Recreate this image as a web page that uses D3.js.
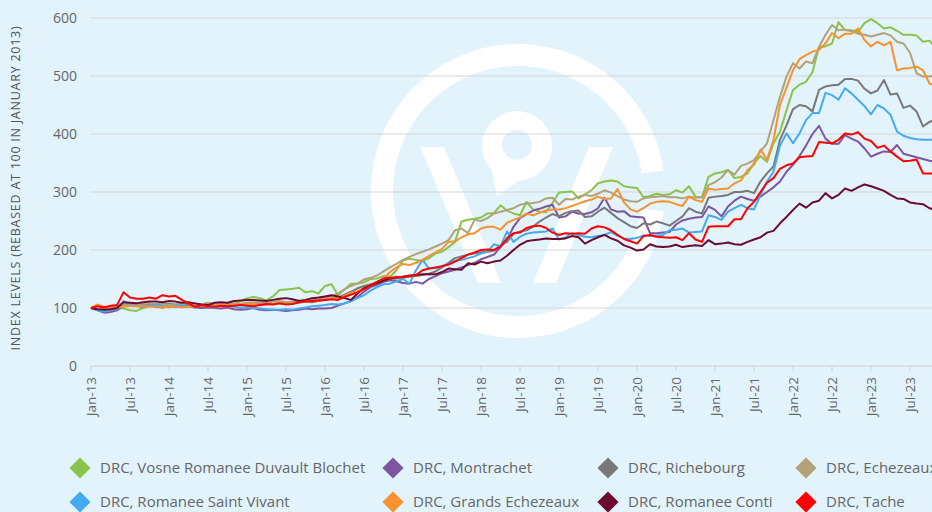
<!DOCTYPE html>
<html>
<head>
<meta charset="utf-8">
<script src="https://cdn.jsdelivr.net/npm/d3@7"></script>
<style>
    html, body { margin: 0; padding: 0; background: #e2f3fc; }
    svg { display: block; font-family: "Open Sans", sans-serif; }
</style>
</head>
<body>
<svg id="chart" width="932" height="512"></svg>
<script>
    "use strict";

    //Tick labels (one every 6 months, starting Jan-13)
    var tickLabels = ["Jan-13", "Jul-13", "Jan-14", "Jul-14", "Jan-15", "Jul-15", "Jan-16", "Jul-16",
        "Jan-17", "Jul-17", "Jan-18", "Jul-18", "Jan-19", "Jul-19", "Jan-20", "Jul-20",
        "Jan-21", "Jul-21", "Jan-22", "Jul-22", "Jan-23", "Jul-23"];
    var yTicks = [0, 100, 200, 300, 400, 500, 600];

    var names = ["DRC, Vosne Romanee Duvault Blochet", "DRC, Montrachet", "DRC, Richebourg", "DRC, Echezeaux",
        "DRC, Romanee Saint Vivant", "DRC, Grands Echezeaux", "DRC, Romanee Conti", "DRC, Tache"];

    //Monthly index levels, Jan-13 onwards
    var vosne = [100,97,100,101,100,99,96,95,100,103,104,102,
        104,105,103,106,104,103,104,102,105,104,107,112,
        117,119,117,113,120,131,132,133,135,127,129,125,
        138,141,122,132,142,142,144,150,151,155,154,165,
        182,185,183,181,186,194,197,205,214,249,252,254,
        256,263,264,277,268,263,260,283,270,266,265,281,
        299,300,301,289,296,303,315,318,320,318,310,308,
        307,291,293,297,295,296,303,299,310,292,291,326,
        332,334,338,324,326,332,350,362,352,384,404,441,
        476,485,490,507,550,551,556,593,579,579,576,591,
        598,591,582,584,578,571,571,570,559,561,547];

    var montrachet = [100,96,92,93,96,104,107,105,103,104,102,101,
        103,102,104,103,101,100,101,100,99,101,98,97,
        98,100,97,96,97,96,95,96,97,99,98,99,
        99,100,104,108,112,119,128,136,140,145,148,146,
        143,142,145,142,150,155,160,163,166,170,174,178,
        184,188,192,205,217,240,255,262,268,271,275,278,
        256,258,266,263,262,265,272,290,270,266,267,258,
        257,256,229,229,230,231,244,251,254,256,257,275,
        269,258,275,285,292,288,285,292,300,308,318,335,
        347,362,380,400,414,392,383,383,398,392,387,375,
        361,366,370,369,381,366,363,360,357,354,352];

    var richebourg = [100,97,96,98,100,104,108,106,105,107,106,108,
        107,106,108,107,106,105,104,106,105,107,106,107,
        108,107,109,108,107,109,110,108,109,111,110,112,
        114,116,118,123,128,134,138,141,144,147,150,151,
        152,154,155,157,159,163,170,178,186,189,192,194,
        196,197,199,208,214,228,232,234,240,249,256,262,
        258,264,267,268,257,258,266,273,264,255,248,241,
        238,246,244,249,246,242,250,258,272,266,263,290,
        292,293,295,300,300,302,298,318,332,344,390,415,
        443,450,448,439,476,482,484,485,495,495,492,478,
        470,475,493,468,470,445,449,439,413,421,424];

    var echezeaux = [100,104,102,101,103,105,107,106,107,108,106,107,
        105,106,108,109,107,106,109,107,106,107,108,107,
        109,110,109,108,111,112,110,111,113,112,115,116,
        118,120,125,132,138,142,149,152,156,163,170,176,
        183,188,193,197,201,206,211,217,234,237,229,252,
        250,255,263,266,269,272,278,280,281,283,289,290,
        278,288,287,292,295,293,297,303,299,293,287,284,
        283,289,291,292,293,291,291,289,292,290,291,312,
        317,325,338,330,345,349,355,370,384,424,464,499,
        522,513,525,522,550,571,588,579,580,577,573,571,
        568,571,574,570,559,556,540,505,499,499,501];

    var saintVivant = [100,96,94,97,98,112,106,104,101,104,106,103,
        101,105,104,102,103,104,103,101,104,103,102,100,
        101,100,99,98,97,97,98,97,99,101,103,104,
        105,107,106,108,112,117,122,130,136,141,142,146,
        150,142,165,183,168,169,172,177,181,183,186,189,
        194,197,210,206,232,214,223,228,230,231,232,237,
        218,222,229,226,223,222,224,226,231,225,220,219,
        221,225,224,225,226,234,235,237,230,231,232,260,
        257,252,266,272,278,272,270,295,318,335,380,401,
        384,401,424,436,436,471,467,459,479,470,459,448,
        434,450,444,433,404,397,393,391,390,390,390];

    var grandsEchezeaux = [100,106,102,100,101,102,104,103,103,102,103,101,
        102,103,101,102,103,104,103,104,105,104,105,106,
        106,107,105,106,107,108,107,108,110,111,112,113,
        115,116,117,121,126,129,134,140,145,150,162,170,
        176,174,178,183,190,196,202,214,215,222,227,229,
        237,240,240,235,247,252,256,263,260,264,268,270,
        270,272,276,280,284,287,292,288,289,305,282,270,
        266,272,280,283,284,283,279,276,292,286,283,306,
        304,305,306,315,320,338,347,373,356,390,450,480,
        510,529,536,542,545,556,574,565,573,573,582,562,
        551,559,553,559,510,513,514,516,510,487,484];

    var romaneeConti = [100,98,97,98,100,110,109,108,110,111,111,110,
        112,111,109,110,108,106,105,109,110,109,112,113,
        114,114,113,112,114,116,117,115,112,114,117,118,
        120,122,120,117,114,125,134,139,143,147,151,153,
        154,156,157,158,158,158,162,168,167,166,177,175,
        180,177,180,182,190,200,209,215,217,218,220,219,
        219,220,224,222,211,217,222,226,220,216,208,204,
        199,201,210,206,205,206,209,205,207,208,207,217,
        210,211,213,210,209,214,218,222,230,233,246,257,
        269,280,273,282,285,298,289,295,306,302,308,313,
        310,306,302,295,289,288,282,280,279,272,269];

    var tache = [100,103,101,104,105,127,118,116,116,118,116,122,
        120,121,114,108,102,105,103,102,104,103,104,105,
        104,103,105,107,106,108,106,107,110,111,112,113,
        114,115,114,119,123,127,132,139,145,151,152,153,
        154,155,157,165,168,170,172,175,180,186,192,196,
        200,201,200,206,220,229,230,238,241,242,238,230,
        226,229,228,229,228,237,241,239,234,226,219,215,
        211,224,226,223,222,221,222,217,229,218,214,240,
        241,241,241,253,253,272,283,300,316,324,340,346,
        349,360,361,362,386,385,384,390,401,399,403,392,
        388,376,380,370,361,353,354,356,332,332,332];

    var colours = ["#8bc34a", "#7e55a0", "#787878", "#b1a278",
        "#45aaf0", "#f7922f", "#6b0b2f", "#ff0000"];

    var series = [vosne, montrachet, richebourg, echezeaux,
        saintVivant, grandsEchezeaux, romaneeConti, tache];

    //Layout
    var bg = "#e2f3fc";
    var plotLeft = 91, plotTop = 18, plotBottom = 366;
    var monthWidth = 6.5;
    var svg = d3.select("#chart");

    var x = d3.scaleLinear().domain([0, 130]).range([plotLeft, plotLeft + 130 * monthWidth]);
    var y = d3.scaleLinear().domain([0, 600]).range([plotBottom, plotTop]);

    svg.append("rect").attr("width", 932).attr("height", 512).attr("fill", bg);

    //Watermark logo
    var wm = svg.append("g").attr("fill", "#ffffff");
    var cx = 518, cy = 191;
    wm.append("path")
        .attr("transform", "translate(" + cx + "," + cy + ")")
        .attr("d", d3.arc()({
            innerRadius: 125, outerRadius: 147,
            startAngle: Math.PI / 2 + 0.14, endAngle: Math.PI * 2.5 - 0.14
        }));
    wm.append("polygon").attr("points", "420,147 444,147 501,283 478,283");
    wm.append("polygon").attr("points", "589,147 613,147 556,283 533,283");
    wm.append("circle").attr("cx", 517).attr("cy", 146).attr("r", 35);
    wm.append("polygon").attr("points", "497,196 550,159 484,133");
    wm.append("circle").attr("cx", 517).attr("cy", 145).attr("r", 15).attr("fill", bg);

    //Gridlines
    svg.append("g").selectAll("line")
        .data(yTicks.filter(function (d) { return d > 0; }))
        .enter().append("line")
        .attr("x1", plotLeft - 1).attr("x2", 932)
        .attr("y1", function (d) { return y(d); })
        .attr("y2", function (d) { return y(d); })
        .attr("stroke", "#d5d5d5").attr("stroke-width", 1);

    //Y axis labels
    svg.append("g").selectAll("text")
        .data(yTicks)
        .enter().append("text")
        .attr("x", 77)
        .attr("y", function (d) { return y(d); })
        .attr("dy", "0.35em")
        .attr("text-anchor", "end")
        .attr("font-size", 14)
        .attr("fill", "#666")
        .text(function (d) { return d; });

    //Y axis title
    svg.append("text")
        .attr("transform", "translate(20," + ((plotTop + plotBottom) / 2 - 4) + ") rotate(-90)")
        .attr("text-anchor", "middle")
        .attr("font-size", 12.5)
        .attr("letter-spacing", 0.75)
        .attr("fill", "#555")
        .text("INDEX LEVELS (REBASED AT 100 IN JANUARY 2013)");

    //X axis
    svg.append("line")
        .attr("x1", plotLeft).attr("x2", 932)
        .attr("y1", plotBottom).attr("y2", plotBottom)
        .attr("stroke", "#cfcfcf");

    var xt = svg.append("g").selectAll("g")
        .data(tickLabels)
        .enter().append("g")
        .attr("transform", function (d, i) { return "translate(" + x(i * 6) + "," + plotBottom + ")"; });
    xt.append("line").attr("y2", 5).attr("stroke", "#cfcfcf");
    xt.append("text")
        .attr("transform", "translate(0,11) rotate(-90)")
        .attr("dy", "0.35em")
        .attr("text-anchor", "end")
        .attr("font-size", 13.5)
        .attr("fill", "#666")
        .text(function (d) { return d; });

    //Lines
    var line = d3.line()
        .x(function (d, i) { return x(i); })
        .y(function (d) { return y(d); });

    svg.append("g").selectAll("path")
        .data(series)
        .enter().append("path")
        .attr("d", line)
        .attr("fill", "none")
        .attr("stroke", function (d, i) { return colours[i]; })
        .attr("stroke-width", 2)
        .attr("stroke-linejoin", "round");

    //Legend
    var colX = [80, 393, 608, 806];
    var rowY = [468, 502];
    var lg = svg.append("g").selectAll("g")
        .data(names)
        .enter().append("g")
        .attr("transform", function (d, i) {
            return "translate(" + colX[i % 4] + "," + rowY[Math.floor(i / 4)] + ")";
        });
    lg.append("rect")
        .attr("x", -7.5).attr("y", -7.5).attr("width", 15).attr("height", 15)
        .attr("transform", "rotate(45)")
        .attr("fill", function (d, i) { return colours[i]; });
    lg.append("text")
        .attr("x", 20)
        .attr("dy", "0.35em")
        .attr("font-size", 15)
        .attr("fill", "#666")
        .text(function (d) { return d; });
</script>
</body>
</html>
